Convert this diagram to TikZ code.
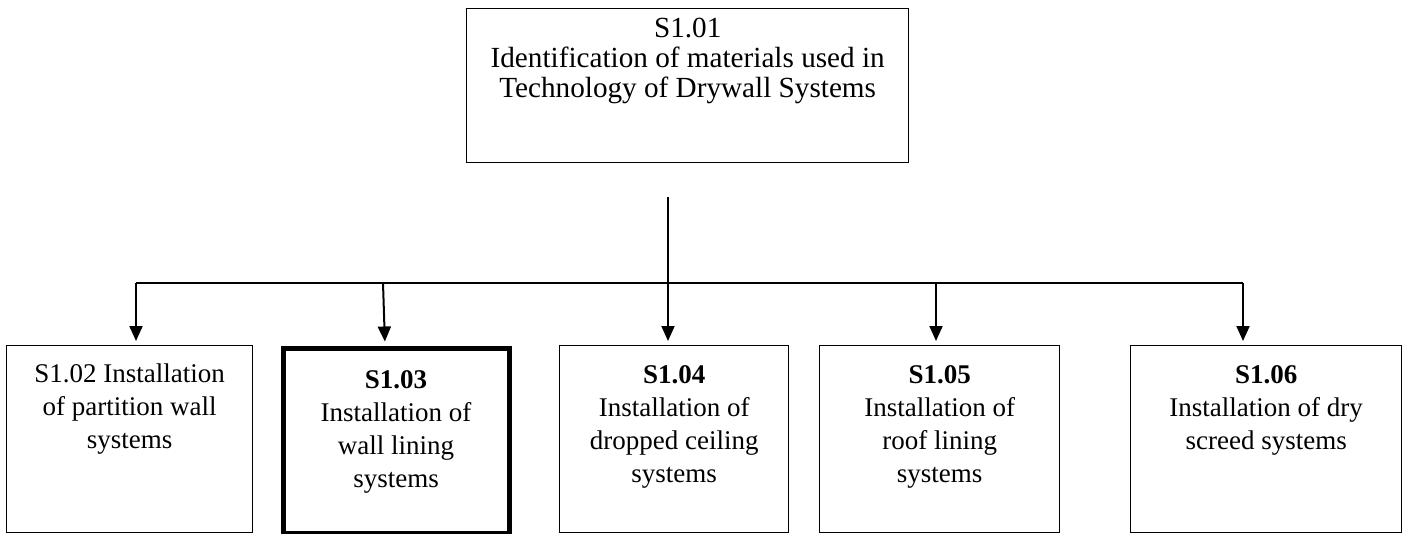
\documentclass[tikz,border=0pt]{standalone}
\usepackage{fontspec}
\setmainfont{Liberation Serif}
\usetikzlibrary{arrows.meta}
\newcommand{\unittext}[4]{\parbox[c][#2][t]{#1}{\centering\rule{0pt}{#3}#4}}

\begin{document}
\begin{tikzpicture}[x=0.5pt, y=-0.5pt,
		unit/.style={draw, rectangle, line width=0.7pt, inner sep=0pt, anchor=north west, font=\fontsize{13.5pt}{16.5pt}\selectfont},
		current/.style={unit, line width=2.6pt},
		link/.style={line width=1pt, -{Triangle[width=6.5pt, length=7.5pt]}, shorten >=2pt},
		bus/.style={line width=1pt}]
		\useasboundingbox (0,0) rectangle (1407,534);
		\pgfmathsetmacro{\forky}{283}
		\pgfmathsetmacro{\unity}{345}
		
		\node[unit, font=\fontsize{14.6pt}{15pt}\selectfont] (s101) at (466,8)
			{\unittext{221pt}{77pt}{14.5pt}{S1.01\\Identification of materials used in\\Technology of Drywall Systems}};
		\node[unit] (s102) at (6,\unity)
			{\unittext{123pt}{93.5pt}{18.5pt}{S1.02 Installation\\of partition wall\\systems}};
		\node[current] (s103) at (280.5,\unity+0.5)
			{\unittext{113pt}{92.75pt}{20pt}{\textbf{S1.03}\\Installation of\\wall lining\\systems}};
		\node[unit] (s104) at (559,\unity)
			{\unittext{114.5pt}{93.5pt}{19pt}{\textbf{S1.04}\\Installation of\\dropped ceiling\\systems}};
		\node[unit] (s105) at (819,\unity)
			{\unittext{120pt}{93.5pt}{19pt}{\textbf{S1.05}\\Installation of\\roof lining\\systems}};
		\node[unit] (s106) at (1130,\unity)
			{\unittext{135.5pt}{93.5pt}{19pt}{\textbf{S1.06}\\Installation of dry\\screed systems}};
		
		\coordinate (stem) at (668,197);
		\coordinate (fork102) at (136,\forky);
		\coordinate (fork103) at (383,\forky);
		\coordinate (fork105) at (936,\forky);
		\coordinate (fork106) at (1243,\forky);
		
		\draw[bus] (fork102) -- (fork106);
		\draw[link] (stem) -- (stem |- s104.north);
		\draw[link] (fork103) -- ([xshift=1pt]fork103 |- s103.north);
		\foreach \k in {102, 105, 106}
		{
			\draw[link] (fork\k) -- (fork\k |- s\k.north);
		}
\end{tikzpicture}
\end{document}
